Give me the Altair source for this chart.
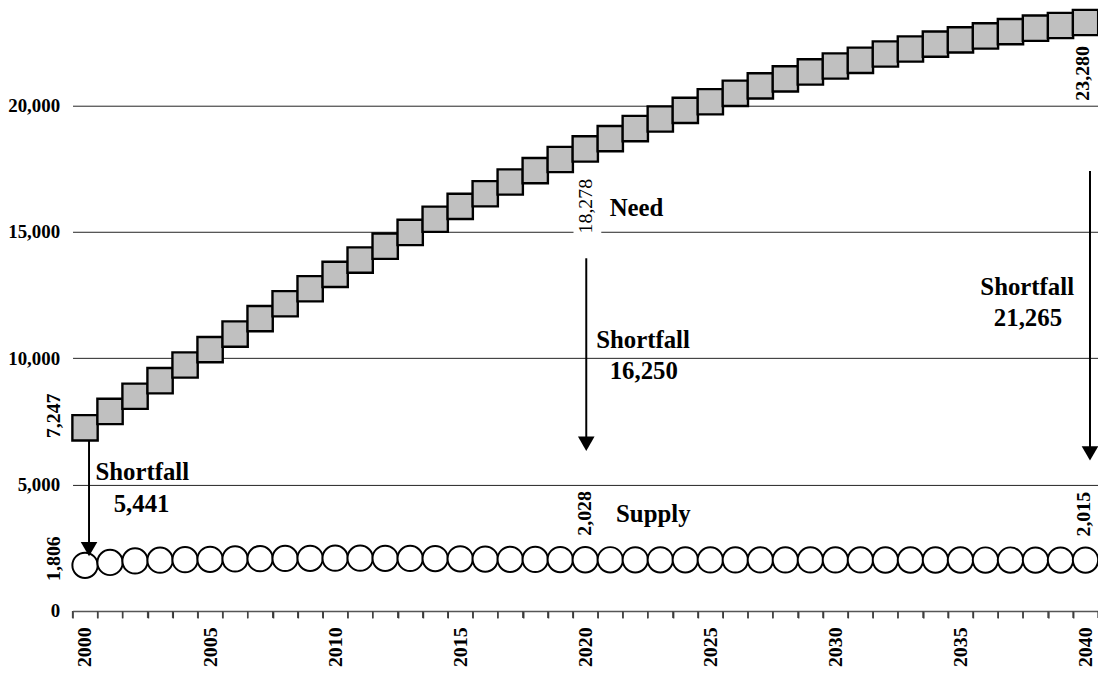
import altair as alt
import pandas as pd

FONT = "Liberation Serif"

years = list(range(2000, 2041))
need = [7247, 7893, 8494, 9110, 9731, 10340, 10956, 11565, 12154, 12747,
        13317, 13882, 14432, 14974, 15496, 16006, 16505, 16970, 17420, 17860,
        18278, 18686, 19085, 19462, 19804, 20145, 20479, 20774, 21049, 21324,
        21559, 21783, 22034, 22231, 22423, 22592, 22749, 22918, 23055, 23161,
        23280]
supply = [1806, 1920, 1980, 2010, 2030, 2045, 2060, 2070, 2080, 2085,
          2090, 2090, 2085, 2080, 2075, 2065, 2055, 2045, 2040, 2035,
          2028, 2026, 2025, 2024, 2023, 2022, 2021, 2021, 2020, 2020,
          2019, 2019, 2018, 2018, 2017, 2017, 2016, 2016, 2015, 2015,
          2015]

# category boundary ticks on the x axis (between years)
tick_pos = [y - 0.5 for y in years] + [2040.5]
tick_top = [0] * len(tick_pos)
tick_bottom = [-275] * len(tick_pos)

# horizontal annotation texts
note_text = ["Need", "Shortfall", "16,250", "Shortfall", "21,265",
             "Shortfall", "5,441", "Supply"]
note_x = [2022.05, 2022.31, 2022.34, 2037.67, 2037.70, 2002.29, 2002.26, 2022.72]
note_y = [15640, 10406, 9162, 12500, 11255, 5168, 3927, 3507]

# rotated value labels (bold)
val_text = ["7,247", "1,806", "23,280", "2,028", "2,015"]
val_x = [1998.77, 1998.77, 2039.92, 2020.01, 2039.95]
val_y = [7720, 2073, 21268, 3860, 3829]

# rotated value label (regular)
mid_text = ["18,278"]
mid_x = [2020.04]
mid_y = [16014]

# arrows
arrow_x = [2000.16, 2020.04, 2040.18]
arrow_start = [6750, 13953, 17408]
arrow_end = [2447, 6617, 6236]

df = pd.DataFrame({"year": years, "need": need, "supply": supply})
ticks_df = pd.DataFrame({"x": tick_pos, "t0": tick_top, "t1": tick_bottom})
notes = pd.DataFrame({"x": note_x, "y": note_y, "text": note_text})
vals = pd.DataFrame({"x": val_x, "y": val_y, "text": val_text})
mids = pd.DataFrame({"x": mid_x, "y": mid_y, "text": mid_text,
                     "x0": [2019.53], "x1": [2020.64], "y0": [14800], "y1": [16500]})
arrows = pd.DataFrame({"x": arrow_x, "y1": arrow_start, "y2": arrow_end})

WIDTH = 1033
HALF_BAND = WIDTH / len(years) / 2

x_scale = alt.Scale(domain=[1999.5, 2040.5], nice=False, zero=False)
y_scale = alt.Scale(domain=[0, 23758], nice=False)

x_axis = alt.Axis(
    values=years, title=None, format="d", orient="bottom",
    labelExpr="datum.value % 5 == 0 ? datum.label : ''",
    labelAngle=270, labelAlign="right", labelBaseline="middle",
    labelFont=FONT, labelFontSize=20, labelFontWeight="bold", labelColor="black",
    labelOverlap=False, labelFlush=False, labelPadding=9,
    tickOffset=-HALF_BAND, labelOffset=HALF_BAND,
    ticks=True, tickSize=7, tickColor="#333333", tickWidth=1.5, tickOpacity=1,
    domainColor="#555555", domainWidth=1.5, grid=False,
)
y_axis = alt.Axis(
    values=[0, 5000, 10000, 15000, 20000], format=",d", title=None,
    grid=True, gridColor="#222222", gridWidth=1, ticks=False, domain=False,
    labelFont=FONT, labelFontSize=19, labelFontWeight="bold", labelColor="black",
    labelPadding=13,
)


def X(field):
    return alt.X(field, type="quantitative", scale=x_scale, axis=x_axis)


def Y(field):
    return alt.Y(field, type="quantitative", scale=y_scale, axis=y_axis)


tick_layer = alt.Chart(ticks_df).mark_rule(color="#444444", strokeWidth=1.3).encode(
    x=X("x"), y=Y("t0"), y2="t1")

need_layer = alt.Chart(df).mark_square(
    size=650, fill="#C0C0C0", stroke="black", strokeWidth=2.4, opacity=1
).encode(x=X("year"), y=Y("need"))

supply_layer = alt.Chart(df).mark_circle(
    size=650, fill="white", stroke="black", strokeWidth=2, opacity=1
).encode(x=X("year"), y=Y("supply"))

mid_bg = alt.Chart(mids).mark_rect(fill="white").encode(
    x=X("x0"), x2="x1", y=Y("y0"), y2="y1")

mid_layer = alt.Chart(mids).mark_text(
    font=FONT, fontSize=20, fontWeight="normal", angle=270,
    align="center", baseline="middle", color="black"
).encode(x=X("x"), y=Y("y"), text="text:N")

val_layer = alt.Chart(vals).mark_text(
    font=FONT, fontSize=20, fontWeight="bold", angle=270,
    align="center", baseline="middle", color="black"
).encode(x=X("x"), y=Y("y"), text="text:N")

note_layer = alt.Chart(notes).mark_text(
    font=FONT, fontSize=25, fontWeight="bold",
    align="center", baseline="alphabetic", color="black"
).encode(x=X("x"), y=Y("y"), text="text:N")

shaft = alt.Chart(arrows).mark_rule(color="black", strokeWidth=2).encode(
    x=X("x"), y=Y("y1"), y2="y2")

head = alt.Chart(arrows).mark_point(
    shape="triangle-down", size=280, filled=True, fill="black",
    strokeWidth=0, opacity=1
).encode(x=X("x"), y=Y("y2"))

chart = alt.layer(
    tick_layer, need_layer, supply_layer, mid_bg, mid_layer, val_layer,
    note_layer, shaft, head
).properties(
    width=WIDTH, height=605,
    padding={"left": 65, "top": 0, "right": 0, "bottom": 56},
    autosize=alt.AutoSizeParams(type="none"),
).configure_view(strokeWidth=0)

chart.save("out.html", embed_options={"renderer": "svg", "actions": False})
